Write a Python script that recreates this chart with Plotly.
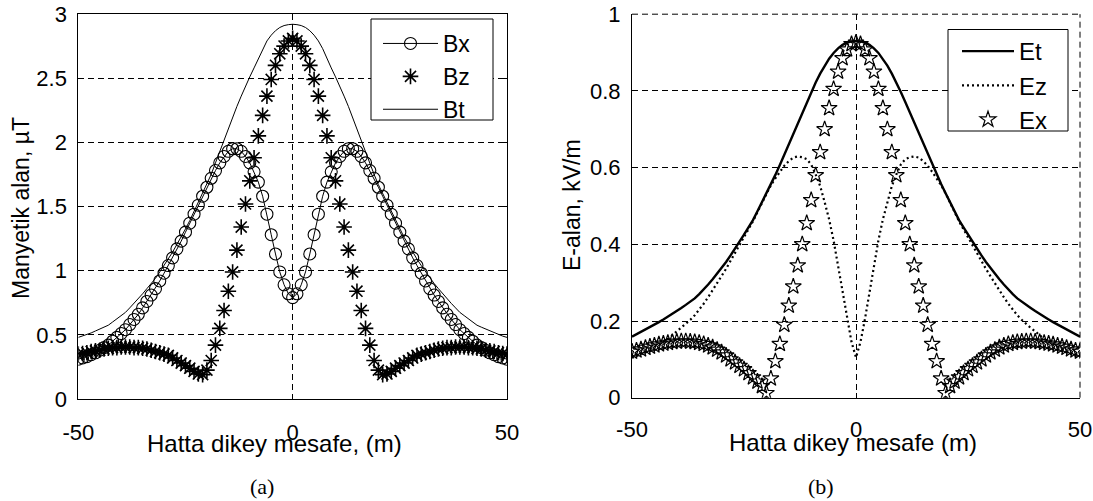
import plotly.graph_objects as go

# ---------------- data ----------------
distance = list(range(-50, 51))

bx = [0.31, 0.32, 0.33, 0.345, 0.36, 0.38, 0.40, 0.42, 0.45, 0.48,
      0.51, 0.54, 0.58, 0.62, 0.66, 0.71, 0.76, 0.81, 0.86, 0.92,
      0.98, 1.04, 1.10, 1.17, 1.23, 1.30, 1.37, 1.44, 1.51, 1.58,
      1.65, 1.72, 1.78, 1.84, 1.89, 1.93, 1.95, 1.95, 1.93, 1.89,
      1.84, 1.77, 1.69, 1.58, 1.44, 1.28, 1.13, 0.99, 0.89, 0.82,
      0.79,
      0.82, 0.89, 0.99, 1.13, 1.28, 1.44, 1.58, 1.69, 1.77, 1.84,
      1.89, 1.93, 1.95, 1.95, 1.93, 1.89, 1.84, 1.78, 1.72, 1.65,
      1.58, 1.51, 1.44, 1.37, 1.30, 1.23, 1.17, 1.10, 1.04, 0.98,
      0.92, 0.86, 0.81, 0.76, 0.71, 0.66, 0.62, 0.58, 0.54, 0.51,
      0.48, 0.45, 0.42, 0.40, 0.38, 0.36, 0.345, 0.33, 0.32, 0.31]

bz = [0.35, 0.355, 0.36, 0.37, 0.375, 0.38, 0.39, 0.395, 0.40, 0.40,
      0.405, 0.405, 0.405, 0.40, 0.40, 0.395, 0.39, 0.38, 0.37, 0.36,
      0.35, 0.34, 0.32, 0.30, 0.28, 0.26, 0.24, 0.215, 0.195, 0.19,
      0.225, 0.30, 0.42, 0.55, 0.69, 0.84, 0.99, 1.16, 1.34, 1.52,
      1.70, 1.88, 2.05, 2.21, 2.36, 2.49, 2.60, 2.69, 2.75, 2.79,
      2.81,
      2.79, 2.75, 2.69, 2.60, 2.49, 2.36, 2.21, 2.05, 1.88, 1.70,
      1.52, 1.34, 1.16, 0.99, 0.84, 0.69, 0.55, 0.42, 0.30, 0.225,
      0.19, 0.195, 0.215, 0.24, 0.26, 0.28, 0.30, 0.32, 0.34, 0.35,
      0.36, 0.37, 0.38, 0.39, 0.395, 0.40, 0.40, 0.405, 0.405, 0.405,
      0.40, 0.40, 0.395, 0.39, 0.38, 0.375, 0.37, 0.36, 0.355, 0.35]

bt = [0.48, 0.49, 0.50, 0.515, 0.53, 0.545, 0.56, 0.575, 0.60, 0.625,
      0.65, 0.675, 0.71, 0.745, 0.78, 0.82, 0.86, 0.90, 0.94, 0.99,
      1.04, 1.09, 1.145, 1.205, 1.26, 1.325, 1.39, 1.46, 1.53, 1.60,
      1.67, 1.75, 1.84, 1.93, 2.01, 2.10, 2.19, 2.28, 2.36, 2.44,
      2.51, 2.58, 2.65, 2.73, 2.79, 2.835, 2.87, 2.895, 2.91, 2.917,
      2.92,
      2.917, 2.91, 2.895, 2.87, 2.835, 2.79, 2.73, 2.65, 2.58, 2.51,
      2.44, 2.36, 2.28, 2.19, 2.10, 2.01, 1.93, 1.84, 1.75, 1.67,
      1.60, 1.53, 1.46, 1.39, 1.325, 1.26, 1.205, 1.145, 1.09, 1.04,
      0.99, 0.94, 0.90, 0.86, 0.82, 0.78, 0.745, 0.71, 0.675, 0.65,
      0.625, 0.60, 0.575, 0.56, 0.545, 0.53, 0.515, 0.50, 0.49, 0.48]

et = [0.159, 0.165, 0.171, 0.177, 0.184, 0.191, 0.197, 0.204, 0.211, 0.218,
      0.226, 0.234, 0.242, 0.250, 0.259, 0.270, 0.282, 0.295, 0.309, 0.323,
      0.338, 0.354, 0.371, 0.388, 0.406, 0.425, 0.444, 0.463, 0.486, 0.509,
      0.533, 0.557, 0.581, 0.607, 0.634, 0.662, 0.690, 0.717, 0.744, 0.771,
      0.797, 0.822, 0.845, 0.866, 0.884, 0.899, 0.911, 0.920, 0.926, 0.929,
      0.930,
      0.929, 0.926, 0.920, 0.911, 0.899, 0.884, 0.866, 0.845, 0.822, 0.797,
      0.771, 0.744, 0.717, 0.690, 0.662, 0.634, 0.607, 0.581, 0.557, 0.533,
      0.509, 0.486, 0.463, 0.444, 0.425, 0.406, 0.388, 0.371, 0.354, 0.338,
      0.323, 0.309, 0.295, 0.282, 0.270, 0.259, 0.250, 0.242, 0.234, 0.226,
      0.218, 0.211, 0.204, 0.197, 0.191, 0.184, 0.177, 0.171, 0.165, 0.159]

ez = [0.104, 0.108, 0.113, 0.119, 0.126, 0.134, 0.140, 0.147, 0.153, 0.163,
      0.173, 0.182, 0.192, 0.203, 0.215, 0.229, 0.245, 0.262, 0.280, 0.298,
      0.317, 0.336, 0.357, 0.377, 0.397, 0.418, 0.439, 0.460, 0.484, 0.508,
      0.533, 0.554, 0.572, 0.589, 0.605, 0.617, 0.626, 0.629, 0.627, 0.622,
      0.608, 0.582, 0.552, 0.510, 0.465, 0.410, 0.345, 0.275, 0.205, 0.145,
      0.105,
      0.145, 0.205, 0.275, 0.345, 0.410, 0.465, 0.510, 0.552, 0.582, 0.608,
      0.622, 0.627, 0.629, 0.626, 0.617, 0.605, 0.589, 0.572, 0.554, 0.533,
      0.508, 0.484, 0.460, 0.439, 0.418, 0.397, 0.377, 0.357, 0.336, 0.317,
      0.298, 0.280, 0.262, 0.245, 0.229, 0.215, 0.203, 0.192, 0.182, 0.173,
      0.163, 0.153, 0.147, 0.140, 0.134, 0.126, 0.119, 0.113, 0.108, 0.104]

ex = [0.120, 0.123, 0.126, 0.130, 0.133, 0.136, 0.139, 0.141, 0.143, 0.145,
      0.146, 0.147, 0.147, 0.146, 0.145, 0.143, 0.140, 0.136, 0.131, 0.125,
      0.118, 0.110, 0.100, 0.092, 0.083, 0.074, 0.064, 0.053, 0.042, 0.030,
      0.012, 0.050, 0.095, 0.140, 0.190, 0.240, 0.290, 0.345, 0.400, 0.455,
      0.515, 0.580, 0.640, 0.700, 0.755, 0.805, 0.850, 0.885, 0.908, 0.922,
      0.926,
      0.922, 0.908, 0.885, 0.850, 0.805, 0.755, 0.700, 0.640, 0.580, 0.515,
      0.455, 0.400, 0.345, 0.290, 0.240, 0.190, 0.140, 0.095, 0.050, 0.012,
      0.030, 0.042, 0.053, 0.064, 0.074, 0.083, 0.092, 0.100, 0.110, 0.118,
      0.125, 0.131, 0.136, 0.140, 0.143, 0.145, 0.146, 0.147, 0.147, 0.146,
      0.145, 0.143, 0.141, 0.139, 0.136, 0.133, 0.130, 0.126, 0.123, 0.120]

x_ticks = [-50, 0, 50]
x_ticktext = ["-50", "0", "50"]
b_ticks = [0, 0.5, 1, 1.5, 2, 2.5, 3]
b_ticktext = ["0", "0.5", "1", "1.5", "2", "2.5", "3"]
e_ticks = [0, 0.2, 0.4, 0.6, 0.8, 1.0]
e_ticktext = ["0", "0.2", "0.4", "0.6", "0.8", "1"]

# ---------------- layout helpers ----------------
W, H = 1093, 501


def px(v):
    return v / W


def py(v):
    return 1 - v / H


SANS = "Arial, Liberation Sans, Helvetica, sans-serif"
SERIF = "Times New Roman, Liberation Serif, serif"
BLACK = "#000000"
GRID_DASH = "6px,4px"

fig = go.Figure()

# left panel (a)
fig.add_trace(go.Scatter(
    x=distance, y=bx, name="Bx", mode="lines+markers",
    line=dict(color=BLACK, width=1),
    marker=dict(symbol="circle-open", size=12, color=BLACK, line=dict(width=1.1, color=BLACK)),
    xaxis="x", yaxis="y", legend="legend"))
fig.add_trace(go.Scatter(
    x=distance, y=bz, name="Bz", mode="markers",
    marker=dict(symbol="asterisk-open", size=13, color=BLACK, line=dict(width=1.6, color=BLACK)),
    xaxis="x", yaxis="y", legend="legend"))
fig.add_trace(go.Scatter(
    x=distance, y=bt, name="Bt", mode="lines",
    line=dict(color=BLACK, width=1),
    xaxis="x", yaxis="y", legend="legend"))

# right panel (b)
fig.add_trace(go.Scatter(
    x=distance, y=et, name="Et", mode="lines",
    line=dict(color=BLACK, width=2.4),
    xaxis="x2", yaxis="y2", legend="legend2"))
fig.add_trace(go.Scatter(
    x=distance, y=ez, name="Ez", mode="lines",
    line=dict(color=BLACK, width=2.2, dash="2px,3px"),
    xaxis="x2", yaxis="y2", legend="legend2"))
fig.add_trace(go.Scatter(
    x=distance, y=ex, name="Ex", mode="markers",
    marker=dict(symbol="star-open", size=12, color=BLACK, line=dict(width=1.2, color=BLACK)),
    xaxis="x2", yaxis="y2", legend="legend2"))

axis_common = dict(
    showline=True, linecolor=BLACK, linewidth=1,
    ticks="inside", ticklen=5, tickcolor=BLACK, tickwidth=1,
    showgrid=True, gridcolor=BLACK, gridwidth=1, griddash=GRID_DASH,
    zeroline=False, automargin=False, ticklabeloverflow="allow",
    tickfont=dict(family=SANS, size=22, color=BLACK),
)

fig.update_layout(
    width=W, height=H,
    margin=dict(l=0, r=0, t=0, b=0, autoexpand=False),
    paper_bgcolor="white", plot_bgcolor="white",
    font=dict(family=SANS, color=BLACK),
    xaxis=dict(domain=[px(78.3), px(507)], range=[-50, 50], anchor="y",
               tickvals=x_ticks, ticktext=x_ticktext, mirror="allticks",
               ticklabelstandoff=14, **axis_common),
    yaxis=dict(domain=[py(399), py(14)], range=[0, 3], anchor="x",
               tickvals=b_ticks, ticktext=b_ticktext, mirror="allticks",
               ticklabelstandoff=6, **axis_common),
    xaxis2=dict(domain=[px(632), px(1080)], range=[-50, 50], anchor="y2",
                tickvals=x_ticks, ticktext=x_ticktext, mirror=False,
                ticklabelstandoff=12, **axis_common),
    yaxis2=dict(domain=[py(397.7), py(14.2)], range=[0, 1], anchor="x2",
                tickvals=e_ticks, ticktext=e_ticktext, mirror=False,
                ticklabelstandoff=6, **axis_common),
    legend=dict(x=px(378), y=py(22), xanchor="left", yanchor="top",
                bgcolor="rgba(0,0,0,0)", borderwidth=0, itemwidth=55,
                font=dict(family=SANS, size=23, color=BLACK), tracegroupgap=0),
    legend2=dict(x=px(957), y=py(29), xanchor="left", yanchor="top",
                 bgcolor="rgba(0,0,0,0)", borderwidth=0, itemwidth=52,
                 font=dict(family=SANS, size=24, color=BLACK), tracegroupgap=0),
    showlegend=True,
)

# legend boxes
shapes = [
    dict(type="rect", xref="paper", yref="paper", x0=px(371), x1=px(493), y0=py(120), y1=py(19),
         line=dict(color=BLACK, width=1), fillcolor="white", layer="above"),
    dict(type="rect", xref="paper", yref="paper", x0=px(948), x1=px(1068), y0=py(131), y1=py(29.5),
         line=dict(color=BLACK, width=1), fillcolor="white", layer="above"),
    # dashed upper and right boundaries of panel (b)
    dict(type="line", xref="x2 domain", yref="y2 domain", x0=0, x1=1, y0=1, y1=1,
         line=dict(color=BLACK, width=1, dash=GRID_DASH), layer="below"),
    dict(type="line", xref="x2 domain", yref="y2 domain", x0=1, x1=1, y0=0, y1=1,
         line=dict(color=BLACK, width=1, dash=GRID_DASH), layer="below"),
]
fig.update_layout(shapes=shapes)

annotations = [
    dict(text="Hatta dikey mesafe, (m)", x=px(274), y=py(443), font=dict(family=SANS, size=24)),
    dict(text="Hatta dikey mesafe (m)", x=px(853), y=py(442), font=dict(family=SANS, size=24)),
    dict(text="Manyetik alan, µT", x=px(21), y=py(208), textangle=-90, font=dict(family=SANS, size=23)),
    dict(text="E-alan, kV/m", x=px(572), y=py(205), textangle=-90, font=dict(family=SANS, size=23)),
    dict(text="(a)", x=px(262), y=py(486), font=dict(family=SERIF, size=22)),
    dict(text="(b)", x=px(821), y=py(486), font=dict(family=SERIF, size=22)),
]
for a in annotations:
    a.update(xref="paper", yref="paper", xanchor="center", yanchor="middle", showarrow=False)
    a["font"]["color"] = BLACK
fig.update_layout(annotations=annotations)

fig.write_html(
    "out.html",
    config={"displayModeBar": False, "staticPlot": True},
    post_script="document.body.style.margin='0px';document.body.style.padding='0px';"
                "document.body.style.overflow='hidden';",
)
